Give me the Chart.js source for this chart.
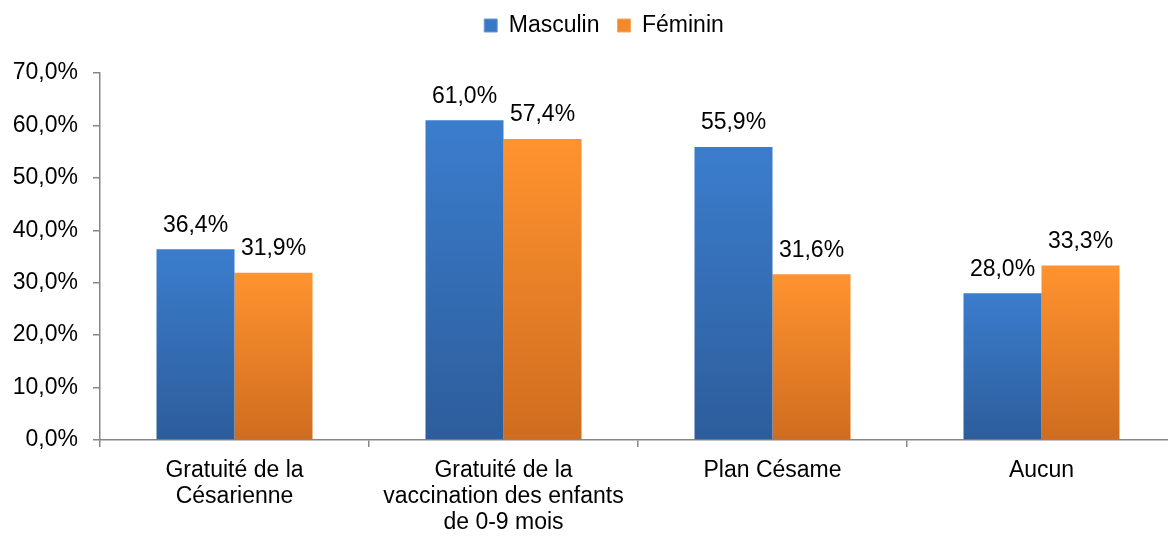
<!DOCTYPE html>
<html>
<head>
<meta charset="utf-8">
<script src="https://cdn.jsdelivr.net/npm/chart.js@4.4.1/dist/chart.umd.min.js"></script>
<style>
  html, body { margin: 0; padding: 0; background: #ffffff; overflow: hidden; }
  #wrap { width: 1176px; height: 536px; }
</style>
</head>
<body>
<div id="wrap"><canvas id="c" width="1176" height="536"></canvas></div>
<script>
const categories = [
  ["Gratuité de la", "Césarienne"],
  ["Gratuité de la", "vaccination des enfants", "de 0-9 mois"],
  "Plan Césame",
  "Aucun"
];
const seriesNames = ["Masculin", "Féminin"];
const masculin = [36.4, 61.0, 55.9, 28.0];
const feminin = [31.9, 57.4, 31.6, 33.3];
const yTicks = [0, 10, 20, 30, 40, 50, 60, 70];

const FONT = "'Liberation Sans', Arial, sans-serif";
const fmt = v => v.toFixed(1).replace('.', ',') + '%';

function gradientFor(top, bottom) {
  return function (ctx) {
    const chart = ctx.chart;
    const area = chart.chartArea;
    if (!area || !chart.scales.y || ctx.raw === undefined) return top;
    const yTop = chart.scales.y.getPixelForValue(ctx.raw);
    const yBot = chart.scales.y.getPixelForValue(0);
    const g = chart.ctx.createLinearGradient(0, yTop, 0, yBot);
    g.addColorStop(0, top);
    g.addColorStop(1, bottom);
    return g;
  };
}

const legendTweak = {
  id: 'legendTweak',
  beforeInit(chart) {
    const lg = chart.legend;
    const fit = lg.fit;
    lg.fit = function () {
      fit.call(this);
      this.height = 73;
    };
    const draw = lg.draw;
    lg.draw = function (area) {
      const c = this.ctx;
      c.save();
      c.translate(16, -4);
      draw.call(this, area);
      c.restore();
    };
  }
};

const valueLabels = {
  id: 'valueLabels',
  afterDatasetsDraw(chart) {
    const ctx = chart.ctx;
    ctx.save();
    ctx.font = '23px ' + FONT;
    ctx.fillStyle = '#000000';
    ctx.textAlign = 'center';
    ctx.textBaseline = 'middle';
    chart.data.datasets.forEach((ds, i) => {
      const meta = chart.getDatasetMeta(i);
      meta.data.forEach((bar, j) => {
        ctx.fillText(fmt(ds.data[j]), bar.x, bar.y - 24);
      });
    });
    ctx.restore();
  }
};

new Chart(document.getElementById('c'), {
  type: 'bar',
  data: {
    labels: categories,
    datasets: [
      {
        label: seriesNames[0],
        data: masculin,
        backgroundColor: gradientFor('#3b7dcd', '#2d5d9b'),
        borderWidth: 0,
        categoryPercentage: 0.58,
        barPercentage: 1.0
      },
      {
        label: seriesNames[1],
        data: feminin,
        backgroundColor: gradientFor('#ff932f', '#cf6c1f'),
        borderWidth: 0,
        categoryPercentage: 0.58,
        barPercentage: 1.0
      }
    ]
  },
  options: {
    responsive: false,
    animation: false,
    devicePixelRatio: 1,
    layout: { padding: { left: 0, right: 0, top: 0, bottom: 0 } },
    plugins: {
      legend: {
        position: 'top',
        align: 'center',
        labels: {
          font: { family: FONT, size: 23 },
          color: '#000000',
          boxWidth: 13,
          boxHeight: 13,
          padding: 18,
          generateLabels(chart) {
            return chart.data.datasets.map((ds, i) => ({
              text: ds.label,
              fillStyle: i === 0 ? '#3a77c4' : '#f28a2c',
              strokeStyle: i === 0 ? '#6b9bd8' : '#f7a860',
              lineWidth: 1,
              datasetIndex: i,
              hidden: false
            }));
          }
        }
      },
      tooltip: { enabled: false }
    },
    scales: {
      x: {
        offset: true,
        grid: {
          display: true,
          offset: true,
          drawOnChartArea: false,
          drawTicks: true,
          tickLength: 7,
          color: '#868686',
          lineWidth: 1.5
        },
        border: { display: true, color: '#868686', width: 1.5 },
        ticks: {
          font: { family: FONT, size: 23, lineHeight: 1.15 },
          color: '#000000',
          padding: 10,
          maxRotation: 0,
          autoSkip: false
        },
        afterFit(scale) { scale.height = 96; }
      },
      y: {
        min: 0,
        max: 70,
        afterBuildTicks(scale) { scale.ticks = yTicks.map(v => ({ value: v })); },
        grid: {
          display: true,
          drawOnChartArea: false,
          drawTicks: true,
          tickLength: 7,
          color: '#868686',
          lineWidth: 1.5
        },
        border: { display: true, color: '#868686', width: 1.5 },
        ticks: {
          font: { family: FONT, size: 23 },
          color: '#000000',
          padding: 15,
          callback: v => fmt(v)
        },
        afterFit(scale) { scale.width = 100; }
      }
    }
  },
  plugins: [legendTweak, valueLabels]
});
</script>
</body>
</html>
